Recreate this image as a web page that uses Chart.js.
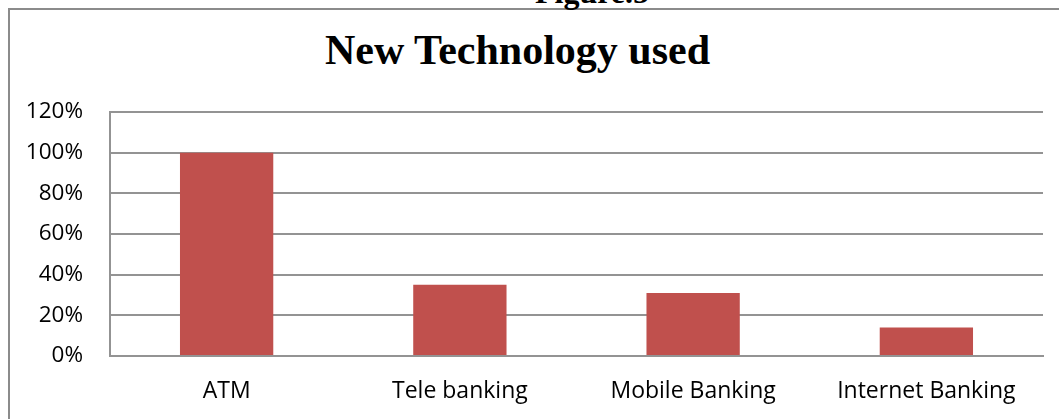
<!DOCTYPE html>
<html>
<head>
<meta charset="utf-8">
<script src="https://cdn.jsdelivr.net/npm/chart.js@4.4.1/dist/chart.umd.min.js"></script>
<style>
  html, body { margin: 0; padding: 0; background: #fff; overflow: hidden; }
  #wrap { position: relative; width: 1059px; height: 419px; overflow: hidden; }
  #frame {
    position: absolute; left: 8px; top: 8px; width: 1100px; height: 500px;
    border-left: 2px solid #8b8b8b; border-top: 2px solid #8b8b8b;
  }
  .cap {
    position: absolute; font-family: "Liberation Serif", "Times New Roman", serif;
    font-weight: bold; color: #000; white-space: nowrap; text-align: center;
  }
  #fig   { left: 492px; width: 200px; top: -24px; font-size: 32px; line-height: 32px; }
  #title { left: 0; width: 1035px; top: 29px; font-size: 42px; line-height: 42px; }
  canvas { position: absolute; left: 0; top: 0; }
</style>
</head>
<body>
<div id="wrap">
  <div id="frame"></div>
  <div class="cap" id="fig">Figure.5</div>
  <div class="cap" id="title">New Technology used</div>
  <canvas id="c" width="1059" height="419"></canvas>
</div>
<script>
// categories and share of respondents (%)
const categories = ["ATM", "Tele banking", "Mobile Banking", "Internet Banking"];
const usage      = [100, 35, 31, 14];
const yTicks     = [0, 20, 40, 60, 80, 100, 120];

const BAR   = "#c0504d";
const GRID  = "#939393";
const FONT  = "'Open Sans', 'Noto Sans', sans-serif";

new Chart(document.getElementById("c"), {
  type: "bar",
  data: {
    labels: categories,
    datasets: [{
      data: usage,
      backgroundColor: BAR,
      borderWidth: 0,
      categoryPercentage: 1,
      barPercentage: 0.4,
    }],
  },
  options: {
    responsive: false,
    animation: false,
    layout: { padding: { top: 112, right: 16, bottom: 0, left: 0 } },
    plugins: { legend: { display: false }, tooltip: { enabled: false } },
    scales: {
      x: {
        grid: { display: false, drawTicks: false },
        border: { display: true, color: GRID, width: 2 },
        ticks: { color: "#000", font: { family: FONT, size: 23 }, padding: 22, maxRotation: 0 },
        afterFit: s => { s.height = 63; },
      },
      y: {
        min: 0, max: 120,
        afterBuildTicks: s => { s.ticks = yTicks.map(v => ({ value: v })); },
        grid: { color: GRID, lineWidth: 2, drawTicks: false },
        border: { display: true, color: GRID, width: 2 },
        ticks: { color: "#000", font: { family: FONT, size: 22.5 }, padding: 27,
                 callback: v => v + "%" },
        afterFit: s => { s.width = 110; },
      },
    },
  },
});
</script>
</body>
</html>
